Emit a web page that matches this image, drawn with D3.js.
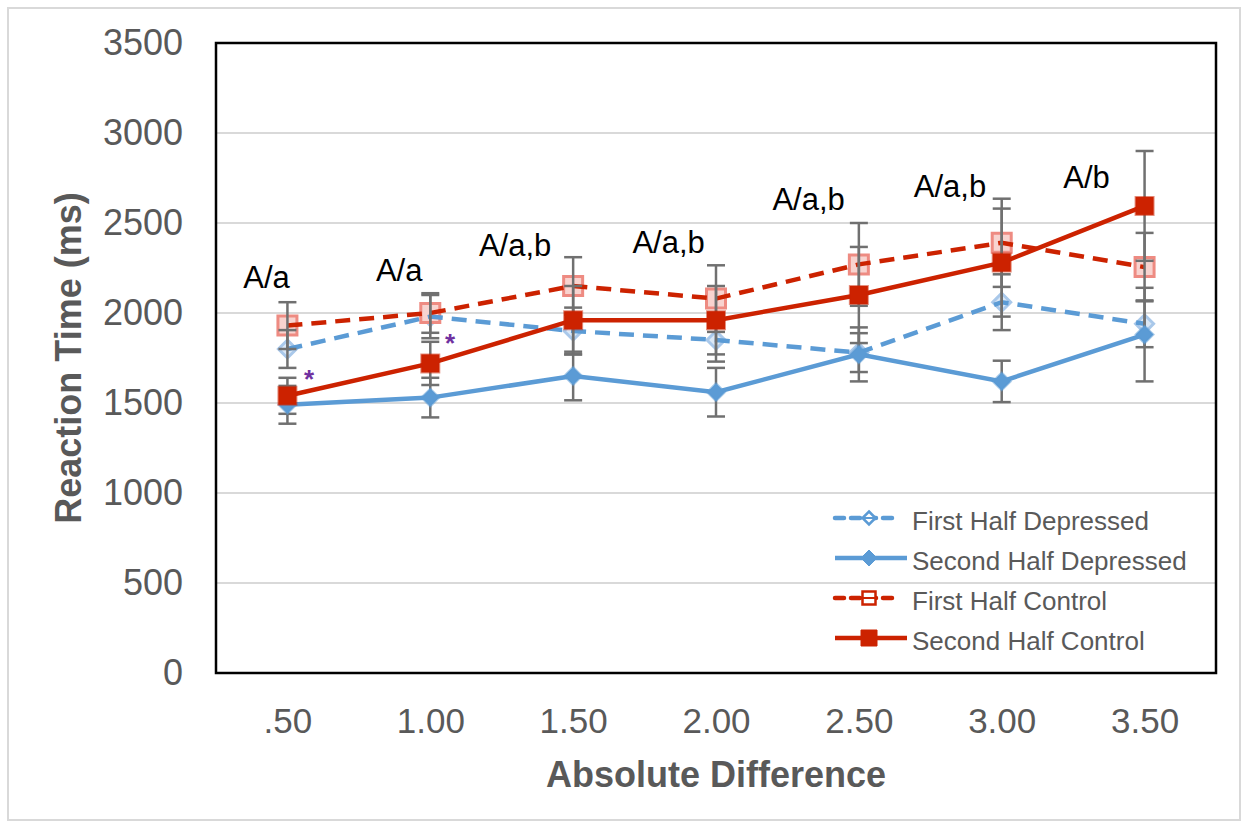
<!DOCTYPE html>
<html>
<head>
<meta charset="utf-8">
<script src="https://cdn.jsdelivr.net/npm/d3@7"></script>
<style>
  body { margin: 0; background: #fff; }
  svg { display: block; font-family: "Liberation Sans", Arial, sans-serif; }
</style>
</head>
<body>
<div id="chart"></div>
<script>
// categories (absolute difference)
var categories = [0.5, 1.0, 1.5, 2.0, 2.5, 3.0, 3.5];
var tickLabels = [".50", "1.00", "1.50", "2.00", "2.50", "3.00", "3.50"];
var yTicks = [0, 500, 1000, 1500, 2000, 2500, 3000, 3500];

// mean reaction times (ms) and error bar half-widths
var firstHalfDepressed = [1800, 1980, 1900, 1850, 1780, 2060, 1940];
var firstHalfDepressedErr = [105, 120, 130, 120, 108, 155, 130];
var secondHalfDepressed = [1490, 1530, 1650, 1560, 1770, 1620, 1880];
var secondHalfDepressedErr = [105, 110, 135, 135, 150, 115, 260];
var firstHalfControl = [1930, 2000, 2150, 2080, 2270, 2390, 2255];
var firstHalfControlErr = [130, 110, 160, 185, 230, 245, 190];
var secondHalfControl = [1540, 1720, 1960, 1960, 2100, 2280, 2595];
var secondHalfControlErr = [100, 120, 190, 190, 267, 300, 305];

// significance letters, anchored in data units
var annoText = ["A/a", "A/a", "A/a,b", "A/a,b", "A/a,b", "A/a,b", "A/b"];
var annoX = [0.427, 0.891, 1.297, 1.834, 2.324, 2.819, 3.297];
var annoY = [2139, 2178, 2317, 2333, 2572, 2644, 2694];
var starX = [0.576, 1.069];
var starY = [1667, 1867];

var legendNames = ["First Half Depressed", "Second Half Depressed", "First Half Control", "Second Half Control"];

function main() {
  var W = 1249, H = 829;
  var margin = {top: 43, right: 33, bottom: 156, left: 216};
  var blue = "#5b9bd5", red = "#cc2200", grey = "#595959";

  var svg = d3.select("#chart").append("svg")
      .attr("width", W)
      .attr("height", H);

  // outer frame
  svg.append("rect")
      .attr("x", 8).attr("y", 8)
      .attr("width", W - 17).attr("height", H - 17)
      .attr("fill", "none")
      .attr("stroke", "#d9d9d9")
      .attr("stroke-width", 2);

  var x = d3.scaleLinear()
      .domain([0.25, 3.75])
      .range([margin.left, W - margin.right]);
  var y = d3.scaleLinear()
      .domain([0, 3500])
      .range([H - margin.bottom, margin.top]);

  // gridlines
  svg.append("g").selectAll("line")
    .data(yTicks.slice(1))
    .enter().append("line")
      .attr("x1", x.range()[0]).attr("x2", x.range()[1])
      .attr("y1", function(d) { return y(d); })
      .attr("y2", function(d) { return y(d); })
      .attr("stroke", "#d9d9d9")
      .attr("stroke-width", 2);

  // Y axis labels
  var yAxis = svg.append("g")
      .attr("transform", "translate(" + margin.left + ",0)")
      .call(d3.axisLeft(y).tickValues(yTicks).tickSize(0).tickPadding(33)
        .tickFormat(d3.format("d")));
  yAxis.select(".domain").remove();
  yAxis.selectAll("text")
      .attr("fill", grey)
      .style("font-size", "36px")
      .style("font-family", "Liberation Sans, Arial, sans-serif");

  // X axis labels
  var xAxis = svg.append("g")
      .attr("transform", "translate(0," + (H - margin.bottom) + ")")
      .call(d3.axisBottom(x).tickValues(categories).tickSize(0).tickPadding(35)
        .tickFormat(function(d, i) { return tickLabels[i]; }));
  xAxis.select(".domain").remove();
  xAxis.selectAll("text")
      .attr("fill", grey)
      .style("font-size", "35px")
      .style("font-family", "Liberation Sans, Arial, sans-serif");

  // axis titles
  svg.append("text")
      .attr("transform", "translate(81," + ((margin.top + H - margin.bottom) / 2) + ") rotate(-90)")
      .attr("text-anchor", "middle")
      .attr("fill", grey)
      .style("font-size", "36px")
      .style("font-weight", "bold")
      .text("Reaction Time (ms)");
  svg.append("text")
      .attr("x", (margin.left + W - margin.right) / 2)
      .attr("y", 787)
      .attr("text-anchor", "middle")
      .attr("fill", grey)
      .style("font-size", "36px")
      .style("font-weight", "bold")
      .text("Absolute Difference");

  var series = [
    {name: legendNames[0], vals: firstHalfDepressed, err: firstHalfDepressedErr, color: blue, dash: "15,9", shape: "diamond", open: true},
    {name: legendNames[1], vals: secondHalfDepressed, err: secondHalfDepressedErr, color: blue, dash: null, shape: "diamond", open: false},
    {name: legendNames[2], vals: firstHalfControl, err: firstHalfControlErr, color: red, dash: "15,9", shape: "square", open: true},
    {name: legendNames[3], vals: secondHalfControl, err: secondHalfControlErr, color: red, dash: null, shape: "square", open: false}
  ];

  function markerPath(shape, r) {
    if (shape == "diamond") return "M0," + (-r) + "L" + r + ",0L0," + r + "L" + (-r) + ",0Z";
    return "M" + (-r) + "," + (-r) + "H" + r + "V" + r + "H" + (-r) + "Z";
  }

  var line = d3.line()
    .x(function(d, i) { return x(categories[i]); })
    .y(function(d) { return y(d); });

  // open markers (under the lines)
  series.filter(function(s) { return s.open; }).forEach(function(s) {
    svg.append("g").selectAll("path")
      .data(s.vals)
      .enter().append("path")
        .attr("transform", function(d, i) { return "translate(" + x(categories[i]) + "," + y(d) + ")"; })
        .attr("d", markerPath(s.shape, s.shape == "diamond" ? 9 : 9.5))
        .attr("fill", s.shape == "diamond" ? "#dbe8f6" : "#f8d3cf")
        .attr("stroke", s.shape == "diamond" ? "#a9c8ea" : "#ee8b82")
        .attr("stroke-width", 3);
  });

  // lines
  series.forEach(function(s) {
    svg.append("path")
      .datum(s.vals)
      .attr("d", line)
      .attr("fill", "none")
      .attr("stroke", s.color)
      .attr("stroke-width", 4.5)
      .attr("stroke-dasharray", s.dash);
  });

  // error bars
  series.forEach(function(s) {
    var g = svg.append("g").attr("stroke", "#707070").attr("stroke-width", 2.5);
    s.vals.forEach(function(v, i) {
      var cx = x(categories[i]);
      g.append("line").attr("x1", cx).attr("x2", cx)
        .attr("y1", y(v - s.err[i])).attr("y2", y(v + s.err[i]));
      [v - s.err[i], v + s.err[i]].forEach(function(e) {
        g.append("line").attr("x1", cx - 9).attr("x2", cx + 9)
          .attr("y1", y(e)).attr("y2", y(e));
      });
    });
  });

  // filled markers (over the error bars)
  series.filter(function(s) { return !s.open; }).forEach(function(s) {
    svg.append("g").selectAll("path")
      .data(s.vals)
      .enter().append("path")
        .attr("transform", function(d, i) { return "translate(" + x(categories[i]) + "," + y(d) + ")"; })
        .attr("d", markerPath(s.shape, 9))
        .attr("fill", s.color)
        .attr("stroke", s.color)
        .attr("stroke-opacity", 0.5)
        .attr("stroke-width", 2);
  });

  // plot border
  svg.append("rect")
      .attr("x", x.range()[0]).attr("y", y.range()[1])
      .attr("width", x.range()[1] - x.range()[0])
      .attr("height", y.range()[0] - y.range()[1])
      .attr("fill", "none")
      .attr("stroke", "#000")
      .attr("stroke-width", 2.5);

  // letters
  svg.append("g").selectAll("text")
    .data(annoText)
    .enter().append("text")
      .attr("x", function(d, i) { return x(annoX[i]); })
      .attr("y", function(d, i) { return y(annoY[i]); })
      .attr("text-anchor", "middle")
      .attr("fill", "#000")
      .style("font-size", "31px")
      .text(function(d) { return d; });

  // asterisks
  svg.append("g").selectAll("text")
    .data(starX)
    .enter().append("text")
      .attr("x", function(d) { return x(d); })
      .attr("y", function(d, i) { return y(starY[i]); })
      .attr("dy", 15)
      .attr("text-anchor", "middle")
      .attr("fill", "#7030a0")
      .style("font-size", "26px")
      .style("font-weight", "bold")
      .text("*");

  // legend
  var leg = svg.append("g").attr("transform", "translate(835,518)");
  series.forEach(function(s, i) {
    var row = leg.append("g").attr("transform", "translate(0," + (i * 40) + ")");
    row.append("line")
      .attr("x1", 0).attr("x2", s.dash ? 64 : 72)
      .attr("y1", 0).attr("y2", 0)
      .attr("stroke", s.color)
      .attr("stroke-width", 4.5)
      .attr("stroke-dasharray", s.dash ? "9,7" : null)
      .attr("stroke-linecap", s.dash ? "round" : null);
    row.append("path")
      .attr("transform", "translate(34,0)")
      .attr("d", markerPath(s.shape, s.open ? 6.5 : 8))
      .attr("fill", s.open ? "#fff" : s.color)
      .attr("stroke", s.color)
      .attr("stroke-width", s.open ? 2.5 : 1);
    if (s.open) {
      row.append("line").attr("x1", 28).attr("x2", 40)
        .attr("y1", 0).attr("y2", 0)
        .attr("stroke", s.color).attr("stroke-width", 2);
    }
    row.append("text")
      .attr("x", 77).attr("y", 12)
      .attr("fill", grey)
      .style("font-size", "26px")
      .text(s.name);
  });
}

document.addEventListener("DOMContentLoaded", main);
</script>
</body>
</html>
